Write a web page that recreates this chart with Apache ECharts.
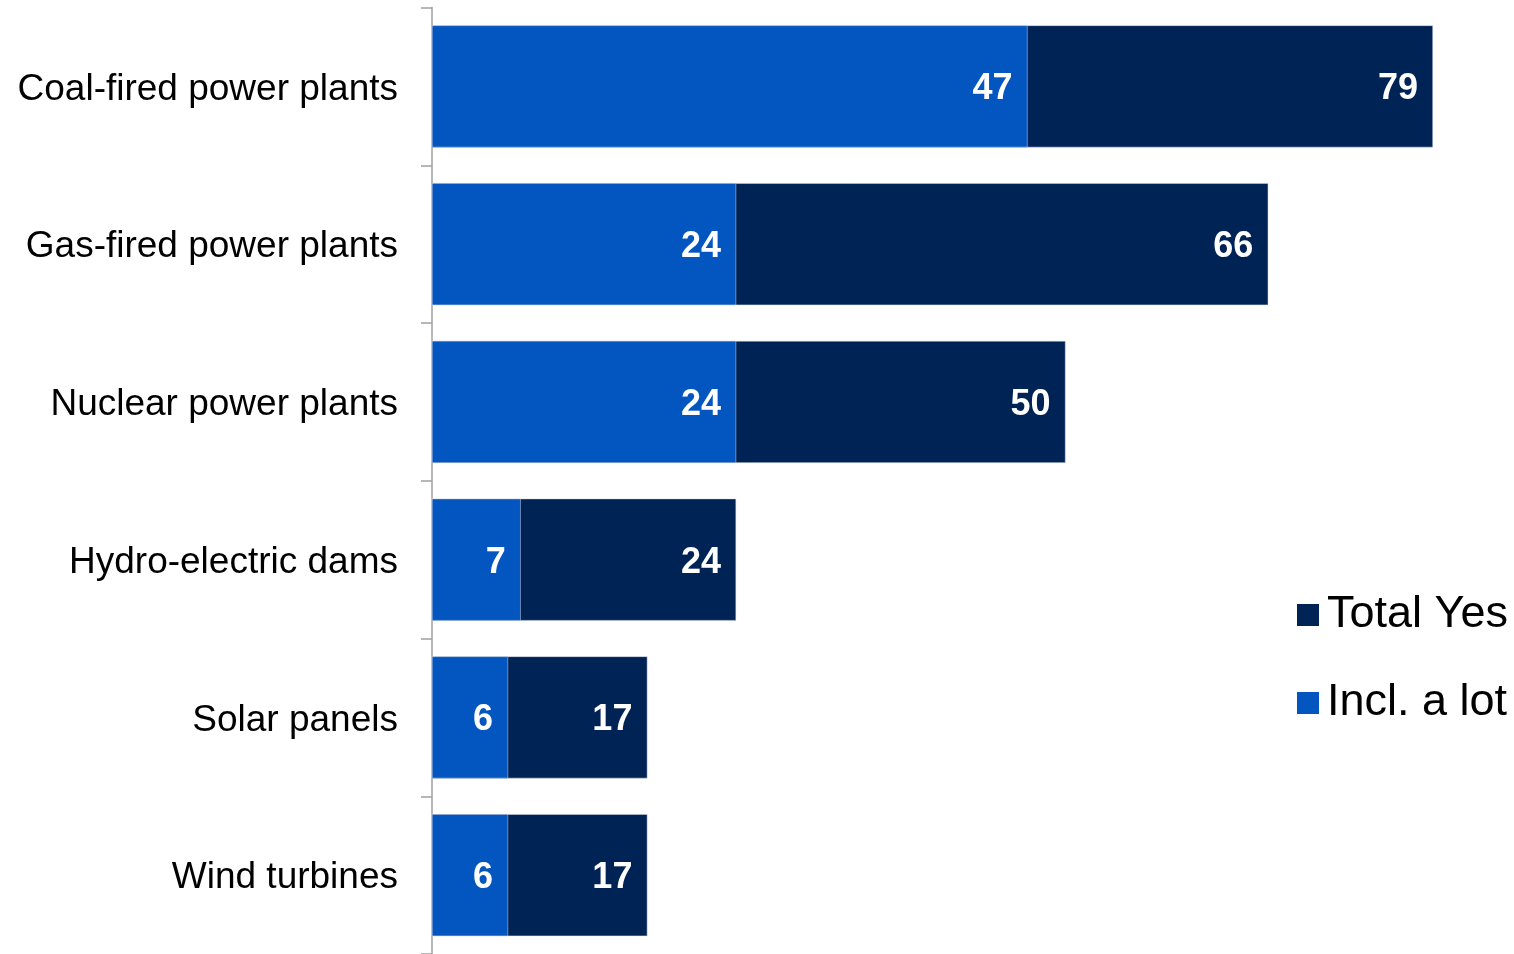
<!DOCTYPE html>
<html><head><meta charset="utf-8">
<script src="https://cdn.jsdelivr.net/npm/echarts@6/dist/echarts.min.js"></script>
<style>html,body{margin:0;padding:0;background:#fff}#c{width:1514px;height:954px}</style>
</head><body><div id="c"></div>
<script>
const categories = ["Coal-fired power plants","Gas-fired power plants","Nuclear power plants","Hydro-electric dams","Solar panels","Wind turbines"];
const totalYes = [79, 66, 50, 24, 17, 17];
const inclALot = [47, 24, 24, 7, 6, 6];
const seriesNames = ["Total Yes", "Incl. a lot"];

const chart = echarts.init(document.getElementById('c'));
const font = '"Liberation Sans", Arial, sans-serif';
const lbl = {show:true, position:'insideRight', distance:15, color:'#fff', fontFamily:font, fontWeight:'bold', fontSize:36, offset:[0,3]};
chart.setOption({
  animation:false,
  grid:{left:432, top:7.5, width:1077, height:951},
  legend:{orient:'vertical', left:1297, top:591, padding:0, itemWidth:22, itemHeight:22, itemGap:40, icon:'rect',
    itemStyle:{borderWidth:0},
    textStyle:{fontFamily:font, fontSize:45, color:'#000', lineHeight:44, padding:[4,0,0,3]},
    data:seriesNames},
  xAxis:{type:'value', min:0, max:85, show:false},
  yAxis:{type:'category', inverse:true, data:categories,
    axisLine:{show:true, lineStyle:{color:'#a0a0a0', width:1.5}},
    axisTick:{show:true, length:11, lineStyle:{color:'#a0a0a0', width:1.5}},
    axisLabel:{margin:34, formatter:'{a|{value}}',
      rich:{a:{color:'#000', fontFamily:font, fontSize:37, padding:[6,0,0,0]}}}},
  series:[
    {name:seriesNames[0], type:'bar', data:totalYes, barWidth:122, barGap:'-100%',
     itemStyle:{color:'#002356', borderColor:'#d8dde8', borderWidth:0.5}, label:lbl},
    {name:seriesNames[1], type:'bar', data:inclALot, barWidth:122, barGap:'-100%',
     itemStyle:{color:'#0355c0', borderColor:'#d8dde8', borderWidth:0.5}, label:lbl}
  ]
});
</script></body></html>
